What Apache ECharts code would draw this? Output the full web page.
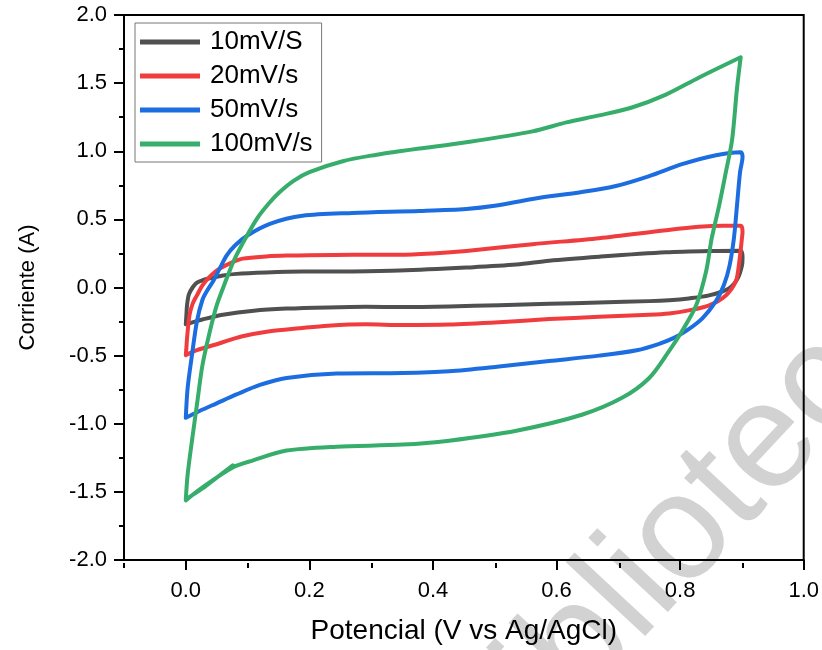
<!DOCTYPE html>
<html>
<head>
<meta charset="utf-8">
<script src="https://cdn.jsdelivr.net/npm/echarts@6/dist/echarts.min.js"></script>
<style>html,body{margin:0;padding:0;background:#fff}#c{width:822px;height:650px}</style>
</head>
<body>
<div id="c"></div>
<script>
// ---- data (potential V, current A) ----
var seriesNames = ['10mV/S', '20mV/s', '50mV/s', '100mV/s'];
var xMajorTicks = [0.0, 0.2, 0.4, 0.6, 0.8, 1.0];
var xMinorTicks = [-0.1, 0.1, 0.3, 0.5, 0.7, 0.9];

var cv10 = [
  [0.0,-0.27],[0.001,-0.20],[0.002,-0.13],[0.005,-0.05],[0.011,0.0],[0.018,0.035],[0.028,0.055],
  [0.039,0.068],[0.060,0.088],[0.082,0.10],[0.130,0.11],[0.189,0.117],[0.27,0.118],[0.346,0.124],
  [0.454,0.146],[0.535,0.168],[0.588,0.197],[0.669,0.226],[0.777,0.258],[0.85,0.268],[0.898,0.27],
  [0.901,0.22],[0.900,0.16],[0.893,0.066],[0.879,-0.007],[0.847,-0.058],[0.814,-0.08],[0.782,-0.093],
  [0.75,-0.10],[0.669,-0.11],[0.588,-0.12],[0.507,-0.13],[0.426,-0.139],[0.35,-0.143],[0.292,-0.142],
  [0.23,-0.146],[0.163,-0.155],[0.11,-0.17],[0.06,-0.20],[0.027,-0.235],[0.008,-0.26],[0.0,-0.27]
];
var cv20 = [
  [0.0,-0.496],[0.001,-0.44],[0.002,-0.372],[0.006,-0.204],[0.011,-0.12],[0.018,-0.058],[0.027,0.015],
  [0.040,0.085],[0.055,0.139],[0.075,0.185],[0.092,0.212],[0.13,0.228],[0.163,0.234],[0.270,0.241],
  [0.346,0.240],[0.40,0.250],[0.454,0.268],[0.561,0.318],[0.669,0.362],[0.777,0.42],[0.830,0.445],
  [0.870,0.453],[0.898,0.453],
  [0.901,0.41],[0.900,0.36],[0.895,0.161],[0.890,0.044],[0.874,-0.058],[0.847,-0.131],[0.814,-0.168],
  [0.782,-0.19],[0.750,-0.20],[0.669,-0.215],[0.588,-0.232],[0.507,-0.255],[0.426,-0.272],[0.35,-0.275],
  [0.292,-0.27],[0.23,-0.28],[0.184,-0.299],[0.136,-0.321],[0.09,-0.36],[0.055,-0.409],[0.018,-0.460],[0.0,-0.496]
];
var cv50 = [
  [0.0,-0.956],[0.003,-0.737],[0.010,-0.496],[0.018,-0.248],[0.027,-0.09],[0.035,-0.02],[0.044,0.044],
  [0.055,0.14],[0.066,0.234],[0.080,0.31],[0.099,0.380],[0.136,0.467],[0.189,0.526],[0.270,0.547],
  [0.378,0.562],[0.454,0.577],[0.50,0.60],[0.561,0.650],[0.641,0.701],[0.696,0.745],[0.750,0.818],
  [0.803,0.905],[0.858,0.971],[0.898,0.993],
  [0.901,0.96],[0.897,0.847],[0.892,0.60],[0.887,0.36],[0.880,0.161],[0.871,0.02],[0.858,-0.10],
  [0.836,-0.226],[0.811,-0.315],[0.790,-0.37],[0.765,-0.415],[0.730,-0.46],[0.669,-0.50],[0.588,-0.540],
  [0.507,-0.58],[0.426,-0.615],[0.351,-0.628],[0.244,-0.632],[0.163,-0.664],[0.120,-0.715],[0.082,-0.785],
  [0.050,-0.85],[0.023,-0.905],[0.0,-0.956]
];
var cv100 = [
  [0.076,-1.305],[0.05,-1.395],[0.027,-1.475],[0.0,-1.555],
  [0.003,-1.372],[0.010,-1.124],[0.018,-0.861],[0.027,-0.569],[0.039,-0.321],[0.050,-0.131],[0.060,-0.007],
  [0.068,0.088],[0.078,0.20],[0.090,0.307],[0.115,0.504],[0.135,0.62],[0.152,0.701],[0.175,0.785],[0.200,0.847],[0.254,0.927],
  [0.309,0.975],[0.346,1.0],[0.378,1.02],[0.454,1.066],[0.561,1.146],[0.616,1.212],[0.669,1.263],
  [0.722,1.321],[0.777,1.416],[0.830,1.540],[0.898,1.69],
  [0.892,1.46],[0.884,1.08],[0.874,0.847],[0.863,0.599],[0.851,0.358],[0.842,0.117],[0.826,-0.131],
  [0.803,-0.321],[0.782,-0.467],[0.750,-0.664],[0.706,-0.810],[0.641,-0.934],[0.535,-1.051],[0.426,-1.124],
  [0.351,-1.153],[0.244,-1.168],[0.163,-1.197],[0.108,-1.270],[0.076,-1.321],[0.027,-1.467],[0.0,-1.562]
];
var allData = [cv10, cv20, cv50, cv100];
var colors = ['#505050', '#f03c3f', '#1c6ee0', '#36ad6a'];

var FONT = 'Liberation Sans, Arial, sans-serif';
var chart = echarts.init(document.getElementById('c'), null, {renderer: 'canvas'});
var gridRect = {left: 124, right: 17, top: 15, bottom: 87};

var option = {
  backgroundColor: '#fff',
  animation: false,
  textStyle: {fontFamily: FONT},
  graphic: [{
    type: 'text', x: 515, y: 825, rotation: 47 * Math.PI / 180, z: -10, silent: true,
    style: {text: 'Biblioteca', fontSize: 150, fontFamily: FONT, fill: '#d2d2d2', verticalAlign: 'bottom'}
  }],
  grid: [
    Object.assign({show: true, borderColor: '#000', borderWidth: 2, backgroundColor: 'transparent'}, gridRect),
    Object.assign({show: false}, gridRect)
  ],
  legend: {
    orient: 'vertical', left: 135, top: 23,
    padding: [6, 9, 5, 5], itemWidth: 60, itemHeight: 5, itemGap: 8,
    icon: 'rect',
    borderColor: '#777', borderWidth: 1, backgroundColor: '#fff',
    textStyle: {fontSize: 26, lineHeight: 26, color: '#000', fontFamily: FONT, padding: [0, 0, 0, 5]},
    data: seriesNames
  },
  xAxis: [{
    type: 'value', gridIndex: 0, min: -0.1, max: 1.0, interval: 0.1,
    name: 'Potencial (V vs Ag/AgCl)', nameLocation: 'middle', nameGap: 57,
    nameTextStyle: {fontSize: 28, color: '#000', fontFamily: FONT},
    axisLine: {show: true, onZero: false, lineStyle: {color: '#000', width: 2}},
    axisTick: {show: true, inside: false, length: 10, customValues: xMajorTicks, lineStyle: {color: '#000', width: 2}},
    axisLabel: {show: true, customValues: xMajorTicks, margin: 20, fontSize: 22, color: '#000', fontFamily: FONT,
      formatter: function (v) { return v.toFixed(1); }},
    splitLine: {show: false}
  }, {
    type: 'value', gridIndex: 1, min: -0.1, max: 1.0, interval: 0.1, position: 'bottom',
    axisLine: {show: false, onZero: false},
    axisTick: {show: true, inside: false, length: 5, customValues: xMinorTicks, lineStyle: {color: '#000', width: 2}},
    axisLabel: {show: false}, splitLine: {show: false}
  }],
  yAxis: [{
    type: 'value', gridIndex: 0, min: -2.0, max: 2.0, interval: 0.5,
    name: 'Corriente (A)', nameLocation: 'middle', nameGap: 85, nameRotate: 90,
    nameTextStyle: {fontSize: 22, color: '#000', fontFamily: FONT},
    axisLine: {show: true, onZero: false, lineStyle: {color: '#000', width: 2}},
    axisTick: {show: true, inside: false, length: 10, lineStyle: {color: '#000', width: 2}},
    minorTick: {show: true, splitNumber: 2, length: 5, lineStyle: {color: '#000', width: 2}},
    axisLabel: {margin: 17, fontSize: 22, color: '#000', fontFamily: FONT,
      formatter: function (v) { return v.toFixed(1); }},
    splitLine: {show: false}, minorSplitLine: {show: false}
  }, {
    type: 'value', gridIndex: 1, min: -2.0, max: 2.0, interval: 0.5, show: false
  }],
  series: allData.map(function (d, i) {
    return {
      name: seriesNames[i], type: 'line', xAxisIndex: 0, yAxisIndex: 0,
      data: d, showSymbol: false, symbol: 'none', smooth: 0.3,
      lineStyle: {color: colors[i], width: 4, cap: 'round', join: 'round'},
      itemStyle: {color: colors[i]},
      z: 2 + i
    };
  })
};
chart.setOption(option);
</script>
</body>
</html>
